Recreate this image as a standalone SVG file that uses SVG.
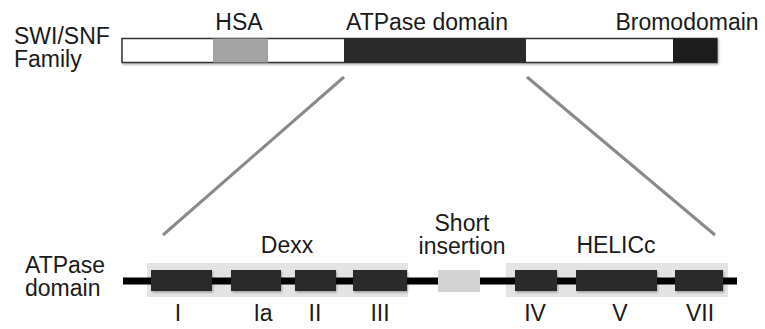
<svg xmlns="http://www.w3.org/2000/svg" width="765" height="329" viewBox="0 0 765 329">
  <defs>
    <filter id="shadow" x="-5%" y="-20%" width="110%" height="160%">
      <feDropShadow dx="1" dy="1.5" stdDeviation="1" flood-color="#000" flood-opacity="0.3"/>
    </filter>
    <style>
      text { font-family: "Liberation Sans", Arial, sans-serif; font-size: 23px; fill: #1a1a1a; }
      .mid { text-anchor: middle; }
      .motif { fill: #2a2a2a; }
      .region { fill: #e4e4e4; }
      .zoom { stroke: #8a8a8a; stroke-width: 3; fill: none; }
    </style>
  </defs>
  <rect width="765" height="329" fill="#fff"/>

  <!-- full-length protein -->
  <g id="family-label">
    <text x="14" y="44">SWI/SNF</text>
    <text x="14" y="67">Family</text>
  </g>
  <g id="protein-bar" filter="url(#shadow)">
    <rect x="122" y="38.5" width="595" height="24" fill="#fff" stroke="#333" stroke-width="1.5"/>
    <rect x="213" y="38.5" width="55" height="24" fill="#a3a3a3"/>
    <rect x="344" y="38.5" width="182" height="24" fill="#2b2b2b"/>
    <rect x="673" y="38.5" width="44" height="24" fill="#1a1a1a"/>
  </g>
  <g id="hsa"><text x="239" y="30" class="mid">HSA</text></g>
  <g id="atpase"><text x="427" y="30" class="mid">ATPase domain</text></g>
  <g id="bromodomain"><text x="687" y="30" class="mid">Bromodomain</text></g>

  <!-- expansion lines -->
  <g id="connectors">
    <line class="zoom" x1="344" y1="77" x2="163" y2="235"/>
    <line class="zoom" x1="527" y1="77" x2="715" y2="235"/>
  </g>

  <!-- ATPase domain detail -->
  <g id="atpase-label">
    <text x="25" y="273">ATPase</text>
    <text x="25" y="296">domain</text>
  </g>
  <g id="dexx">
    <rect class="region" x="147" y="263" width="261" height="34"/>
    <text x="287" y="253" class="mid">Dexx</text>
  </g>
  <g id="helicc">
    <rect class="region" x="506" y="263" width="222" height="34"/>
    <text x="616" y="253" class="mid">HELICc</text>
  </g>
  <g id="backbone">
    <rect x="123" y="277.5" width="614" height="7" fill="#000"/>
  </g>
  <g id="short-insertion">
    <rect x="438" y="270" width="42" height="22" fill="#d2d2d2"/>
    <text x="462" y="231" class="mid">Short</text>
    <text x="462" y="254" class="mid">insertion</text>
  </g>
  <g id="motifs" filter="url(#shadow)">
    <rect class="motif" x="151" y="270" width="61" height="21"/>
    <rect class="motif" x="231" y="270" width="50" height="21"/>
    <rect class="motif" x="295" y="270" width="41" height="21"/>
    <rect class="motif" x="353" y="270" width="54" height="21"/>
    <rect class="motif" x="515" y="270" width="42" height="21"/>
    <rect class="motif" x="576" y="270" width="81" height="21"/>
    <rect class="motif" x="675" y="270" width="48" height="21"/>
  </g>
  <g id="motif-labels">
    <text x="178" y="321" class="mid">I</text>
    <text x="263" y="321" class="mid">Ia</text>
    <text x="315" y="321" class="mid">II</text>
    <text x="380" y="321" class="mid">III</text>
    <text x="535" y="321" class="mid">IV</text>
    <text x="620" y="321" class="mid">V</text>
    <text x="700" y="321" class="mid">VII</text>
  </g>
</svg>
